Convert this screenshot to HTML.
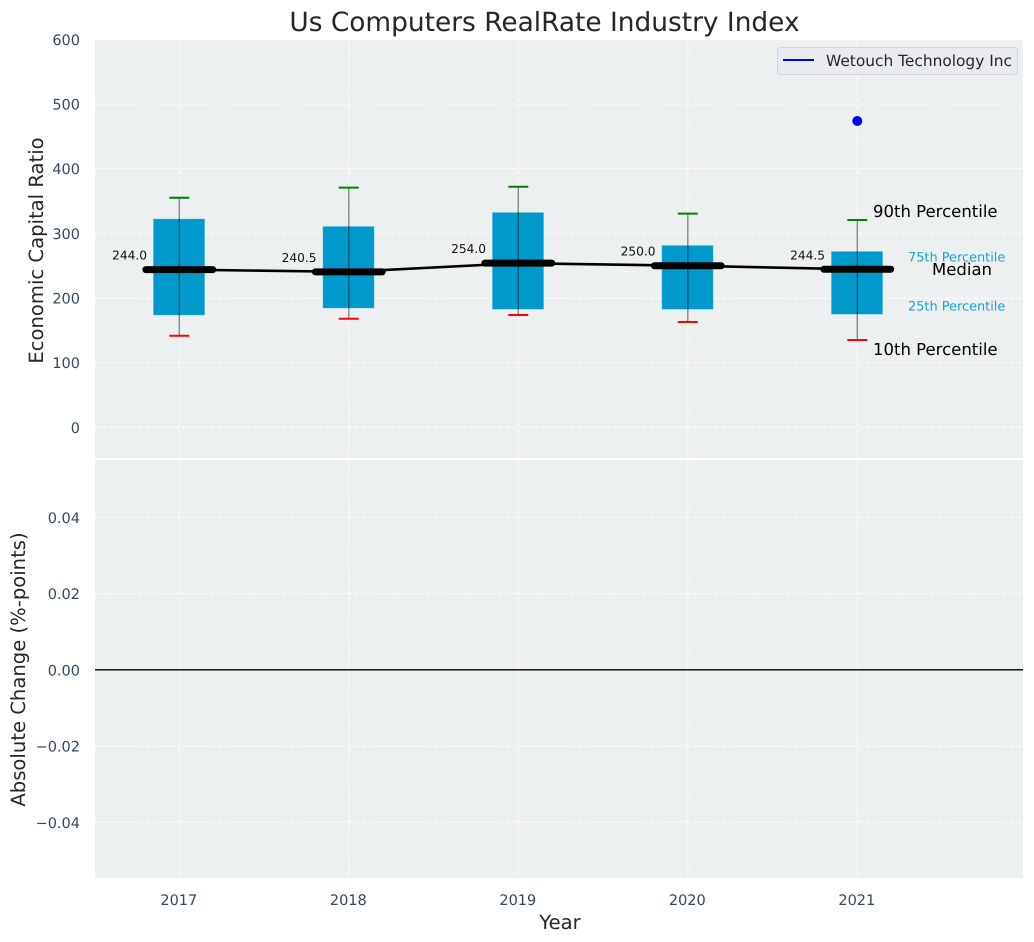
<!DOCTYPE html>
<html lang="en">
<head>
<meta charset="utf-8">
<title>Us Computers RealRate Industry Index</title>
<style>
html,body{margin:0;padding:0;background:#fff;width:1034px;height:942px;overflow:hidden}
svg{display:block;font-family:"DejaVu Sans","Liberation Sans",sans-serif;text-rendering:geometricPrecision}
</style>
</head>
<body>
<svg id="chart" xmlns="http://www.w3.org/2000/svg" width="1034" height="942" viewBox="0 0 1034 942">
<rect x="95" y="40" width="928" height="418" fill="#ecf0f1"/>
<rect x="95" y="460" width="928" height="418" fill="#ecf0f1"/>
<g id="grid"></g>
<g id="marks"></g>
<g id="axes"></g>
<text x="544.5" y="31" text-anchor="middle" font-size="26.4" fill="#262626">Us Computers RealRate Industry Index</text>
<text transform="translate(43,250.5) rotate(-90)" text-anchor="middle" font-size="19.6" fill="#262626">Economic Capital Ratio</text>
<text transform="translate(25,669.5) rotate(-90)" text-anchor="middle" font-size="19.6" fill="#262626">Absolute Change (%-points)</text>
<text x="560" y="929" text-anchor="middle" font-size="19.6" fill="#262626">Year</text>
<g>
<rect x="777.5" y="47.5" width="240" height="27" rx="3" fill="#e9ebf0" stroke="#d3d5d8"/>
<line x1="783" x2="814" y1="60" y2="60" stroke="#0000ff" stroke-width="2"/>
<text x="826" y="66" font-size="15.4" fill="#262626">Wetouch Technology Inc</text>
</g>
</svg>
<script>
const years = [2017, 2018, 2019, 2020, 2021];
const p90 = [355.2, 370.7, 372.2, 330.5, 320.7];
const p75 = [322, 310.4, 332, 281, 271.7];
const medians = [244.0, 240.5, 254.0, 250.0, 244.5];
const p25 = [174, 184.8, 183, 183, 175.3];
const p10 = [141.8, 168, 173.8, 163, 135.2];
const companyYears = [2021];
const companyValues = [473.8];
const topTicks = [0, 100, 200, 300, 400, 500, 600];
const bottomTicks = [-0.04, -0.02, 0, 0.02, 0.04];
const bottomTickLabels = ['\u22120.04', '\u22120.02', '0.00', '0.02', '0.04'];

const NS = 'http://www.w3.org/2000/svg';
const xScale = v => 179.3 + (v - 2017) * 169.5;
const yTop = v => 427.4 - v * 0.6467;
const yBottom = v => 669.8 - v * 3812;
const gridGroup = document.getElementById('grid');
const marksGroup = document.getElementById('marks');
const axesGroup = document.getElementById('axes');

function mk(tag, attrs, parent) {
  const el = document.createElementNS(NS, tag);
  for (const k in attrs) el.setAttribute(k, attrs[k]);
  parent.appendChild(el);
  return el;
}
const gridStyle = {stroke: '#ffffff', 'stroke-width': 1.1, 'stroke-dasharray': '5 2.2', opacity: 0.85};
const tickColor = '#34495e';

topTicks.forEach(t => {
  const line = mk('line', {x1: 95, x2: 1023, y1: yTop(t), y2: yTop(t), ...gridStyle}, gridGroup);
  
  
  const label = mk('text', {x: 80, y: yTop(t) + 5.5, 'text-anchor': 'end', 'font-size': 14.5, fill: tickColor}, axesGroup);
  label.textContent = String(t);
  
  
});
bottomTicks.forEach((t, i) => {
  const line = mk('line', {x1: 95, x2: 1023, y1: yBottom(t), y2: yBottom(t), ...gridStyle}, gridGroup);
  
  
  const label = mk('text', {x: 80, y: yBottom(t) + 5.5, 'text-anchor': 'end', 'font-size': 14.5, fill: tickColor}, axesGroup);
  label.textContent = bottomTickLabels[i];
  
  
});
years.forEach(year => {
  const a = mk('line', {x1: xScale(year), x2: xScale(year), y1: 40, y2: 458, ...gridStyle}, gridGroup);
  
  
  const b = mk('line', {x1: xScale(year), x2: xScale(year), y1: 460, y2: 878, ...gridStyle}, gridGroup);
  
  
  const label = mk('text', {x: xScale(year) - 0.5, y: 905, 'text-anchor': 'middle', 'font-size': 14.5, fill: tickColor}, axesGroup);
  label.textContent = String(year);
  
  
});

const zeroLine = mk('line', {x1: 95, x2: 1023, y1: yBottom(0), y2: yBottom(0), stroke: '#000', 'stroke-width': 1.4}, marksGroup);



years.forEach((year, i) => {
  const x = xScale(year);
  const box = mk('rect', {x: xScale(year - 0.15) - 0.3, y: yTop(p75[i]), width: xScale(year + 0.15) - xScale(year - 0.15), height: yTop(p25[i]) - yTop(p75[i]), fill: '#0099cc', stroke: '#0099cc', 'stroke-opacity': 0.4, 'stroke-width': 1}, marksGroup);
  
  
  const whisker = mk('line', {x1: x, x2: x, y1: yTop(p90[i]), y2: yTop(p10[i]), stroke: '#000', 'stroke-opacity': 0.45, 'stroke-width': 1.4}, marksGroup);
  
  
  const capHigh = mk('line', {x1: x - 10, x2: x + 10, y1: yTop(p90[i]), y2: yTop(p90[i]), stroke: '#008000', 'stroke-width': 2}, marksGroup);
  
  
  const capLow = mk('line', {x1: x - 10, x2: x + 10, y1: yTop(p10[i]), y2: yTop(p10[i]), stroke: '#ff0000', 'stroke-width': 2}, marksGroup);
  
  
});

const trend = mk('polyline', {points: years.map((year, i) => xScale(year) + ',' + yTop(medians[i])).join(' '), fill: 'none', stroke: '#000', 'stroke-width': 2.6}, marksGroup);



years.forEach((year, i) => {
  const bar = mk('line', {x1: xScale(year - 0.197), x2: xScale(year + 0.197), y1: yTop(medians[i]), y2: yTop(medians[i]), stroke: '#000', 'stroke-width': 7, 'stroke-linecap': 'round'}, marksGroup);
  
  
  const label = mk('text', {x: xScale(year) - 32.3, y: yTop(medians[i]) - 10, 'text-anchor': 'end', 'font-size': 12.2, fill: '#111'}, marksGroup);
  label.textContent = medians[i].toFixed(1);
  
  
});

companyYears.forEach((year, i) => {
  const dot = mk('circle', {cx: xScale(year), cy: yTop(companyValues[i]), r: 5, fill: '#0000ff'}, marksGroup);
  
  
});

const last = years.length - 1;
const lastX = xScale(years[last]);
const label90 = mk('text', {x: lastX + 15.7, y: yTop(p90[last]) - 3, 'font-size': 16.5, fill: '#000'}, marksGroup);
label90.textContent = '90th Percentile';


const label75 = mk('text', {x: lastX + 50.7, y: yTop(p75[last]) + 10, 'font-size': 12.9, fill: '#0099cc', opacity: 0.9}, marksGroup);
label75.textContent = '75th Percentile';


const labelMedian = mk('text', {x: lastX + 74.7, y: yTop(medians[last]) + 5.5, 'font-size': 16.5, fill: '#000'}, marksGroup);
labelMedian.textContent = 'Median';


const label25 = mk('text', {x: lastX + 50.7, y: yTop(p25[last]) - 3.5, 'font-size': 12.9, fill: '#0099cc', opacity: 0.9}, marksGroup);
label25.textContent = '25th Percentile';


const label10 = mk('text', {x: lastX + 15.7, y: yTop(p10[last]) + 15, 'font-size': 16.5, fill: '#000'}, marksGroup);
label10.textContent = '10th Percentile';


</script>
</body>
</html>
